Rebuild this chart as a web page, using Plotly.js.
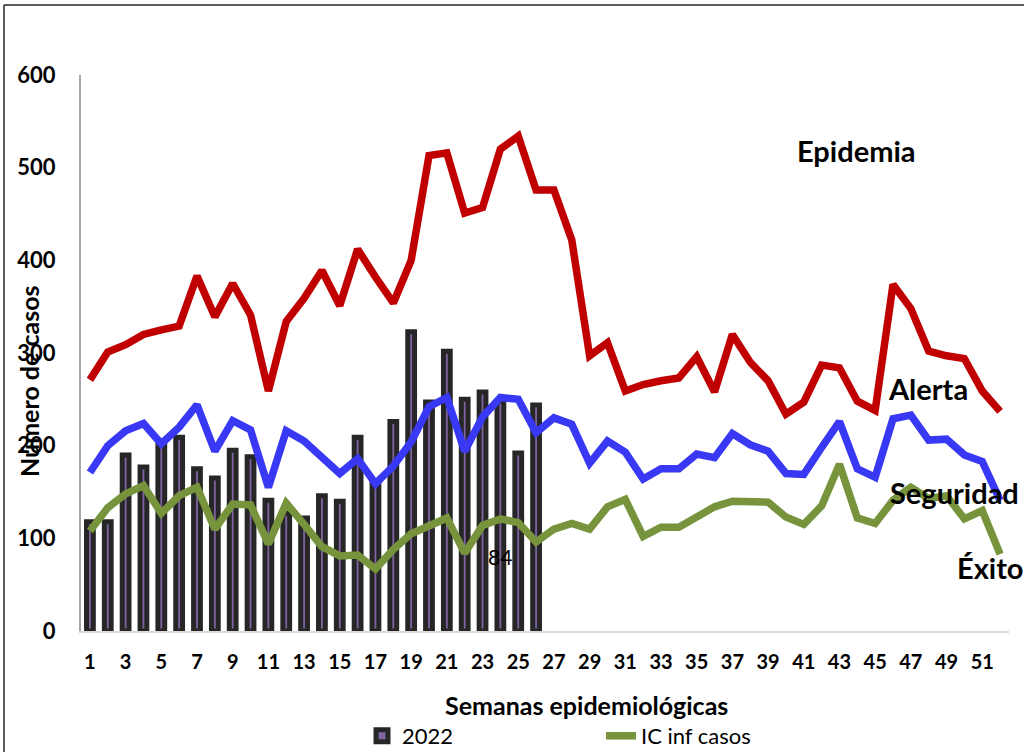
<!DOCTYPE html>
<html>
<head>
<meta charset="utf-8">
<script src="https://cdn.plot.ly/plotly-3.0.1.min.js"></script>
<style>
  html, body { margin: 0; padding: 0; background: #fff; }
  #chart { width: 1024px; height: 752px; }
</style>
</head>
<body>
<div id="chart"></div>
<script>
// ---- Data ----
const weeks = Array.from({length: 52}, (_, i) => i + 1);
const barWeeks = weeks.slice(0, 26);
const cases2022 = [118, 118, 190, 177, 202, 209, 175, 165, 195, 188, 141, 127, 122,
                   146, 140, 209, 160, 226, 323, 247, 302, 250, 258, 248, 192, 244];
const epidemiaLimit = [271, 301, 309, 320, 325, 329, 383, 339, 375, 341, 259, 334, 359,
                       389, 351, 412, 382, 354, 400, 513, 516, 451, 457, 520, 534, 476,
                       476, 422, 297, 311, 259, 266, 270, 273, 296, 258, 320, 290, 270,
                       234, 247, 287, 284, 248, 238, 374, 348, 302, 297, 294, 259, 237];
const alertaLimit = [171, 200, 216, 224, 202, 220, 244, 194, 227, 217, 155, 216, 205,
                     187, 170, 186, 159, 178, 204, 242, 252, 194, 231, 252, 250, 214,
                     230, 223, 181, 205, 193, 164, 175, 175, 191, 187, 213, 201, 194,
                     170, 169, 198, 226, 175, 166, 229, 233, 206, 207, 190, 183, 141];
const icInfCasos = [108, 133, 148, 157, 127, 146, 155, 110, 137, 136, 94, 138, 115,
                    91, 81, 82, 67, 88, 105, 114, 122, 84, 114, 121, 117, 96,
                    110, 116, 110, 134, 142, 102, 112, 112, 122, 134, 140, 139, 139,
                    123, 115, 135, 180, 122, 116, 141, 155, 143, 146, 121, 130, 83];
const xTickVals = weeks.filter(w => w % 2 === 1);
const xTickText = xTickVals.map(String);
const yTickVals = [0, 100, 200, 300, 400, 500, 600];
const yTickText = yTickVals.map(String);

// ---- Layout geometry (pixels) ----
const W = 1024, H = 752;
const mL = 81, mR = 15, mT = 75, mB = 121;
const pw = W - mL - mR, ph = H - mT - mB;
const px = x => (x - mL) / pw;          // pixel x -> paper x
const py = y => (H - mB - y) / ph;      // pixel y -> paper y

const FONT = 'Lato, "Open Sans", "DejaVu Sans", sans-serif';

const traces = [
  {
    type: 'bar', x: barWeeks, y: cases2022, name: '2022',
    width: 0.38,
    marker: { color: '#8064A2', line: { color: '#262626', width: 5 } },
    hoverinfo: 'x+y'
  },
  {
    type: 'scatter', mode: 'lines', x: weeks, y: epidemiaLimit, name: 'Epidemia',
    line: { color: '#C00000', width: 7.5 }, showlegend: false
  },
  {
    type: 'scatter', mode: 'lines', x: weeks, y: alertaLimit, name: 'Alerta',
    line: { color: '#3838F5', width: 7.5 }, showlegend: false
  },
  {
    type: 'scatter', mode: 'lines', x: weeks, y: icInfCasos, name: 'IC inf casos',
    line: { color: '#77933C', width: 7.5 }
  }
];

const labelFont = { family: FONT, size: 29, color: '#000000', weight: 'bold' };

const layout = {
  width: W, height: H,
  margin: { l: mL, r: mR, t: mT, b: mB, autoexpand: false },
  paper_bgcolor: '#ffffff', plot_bgcolor: '#ffffff',
  font: { family: FONT, color: '#000000' },
  showlegend: true,
  bargap: 0,
  xaxis: {
    type: 'linear', range: [0.5, 52.5],
    tickmode: 'array', tickvals: xTickVals, ticktext: xTickText,
    tickfont: { family: FONT, size: 20, color: '#000', weight: 'bold' },
    ticks: '', ticklabelstandoff: 12,
    showgrid: false, zeroline: false,
    showline: true, linecolor: '#d9d9d9', linewidth: 2,
    fixedrange: true
  },
  yaxis: {
    range: [0, 600],
    tickmode: 'array', tickvals: yTickVals, ticktext: yTickText,
    tickfont: { family: FONT, size: 22, color: '#000', weight: 'bold' },
    ticks: '', ticklabelstandoff: 19,
    showgrid: false, zeroline: false,
    showline: true, linecolor: '#a6a6a6', linewidth: 2,
    fixedrange: true
  },
  legend: {
    orientation: 'h',
    x: px(362), xanchor: 'left',
    y: py(736), yanchor: 'middle',
    font: { family: FONT, size: 22, color: '#000' },
    entrywidth: 194, entrywidthmode: 'pixels',
    bgcolor: 'rgba(0,0,0,0)'
  },
  annotations: [
    { xref: 'paper', yref: 'paper', x: px(856), y: py(150), text: 'Epidemia',
      showarrow: false, xanchor: 'center', yanchor: 'middle', font: labelFont },
    { xref: 'paper', yref: 'paper', x: px(886), y: py(388), text: 'Alerta',
      showarrow: false, xanchor: 'left', yanchor: 'middle', font: labelFont },
    { xref: 'paper', yref: 'paper', x: px(1021), y: py(492), text: 'Seguridad',
      showarrow: false, xanchor: 'right', yanchor: 'middle', font: labelFont },
    { xref: 'paper', yref: 'paper', x: px(955), y: py(567), text: 'Éxito',
      showarrow: false, xanchor: 'left', yanchor: 'middle', font: labelFont },
    { xref: 'x', yref: 'y', x: 22, y: icInfCasos[21], text: String(icInfCasos[21]),
      showarrow: false, xanchor: 'center', yanchor: 'middle', xshift: 35, yshift: -3,
      font: { family: FONT, size: 21, color: '#000' } },
    { xref: 'paper', yref: 'paper', x: px(586), y: py(705), text: 'Semanas epidemiológicas',
      showarrow: false, xanchor: 'center', yanchor: 'middle',
      font: { family: FONT, size: 25, color: '#000', weight: 'bold' } },
    { xref: 'paper', yref: 'paper', x: px(29), y: py(381), text: 'Número de casos',
      showarrow: false, xanchor: 'center', yanchor: 'middle', textangle: -90,
      font: { family: FONT, size: 25, color: '#000', weight: 'bold' } }
  ],
  shapes: [
    { type: 'line', xref: 'paper', yref: 'paper', x0: px(4), x1: px(4), y0: py(5), y1: py(760),
      line: { color: '#262626', width: 1.5 } },
    { type: 'line', xref: 'paper', yref: 'paper', x0: px(4), x1: px(1030), y0: py(5), y1: py(5),
      line: { color: '#262626', width: 1.5 } }
  ]
};

Plotly.newPlot('chart', traces, layout, { displayModeBar: false, staticPlot: true });
</script>
</body>
</html>
